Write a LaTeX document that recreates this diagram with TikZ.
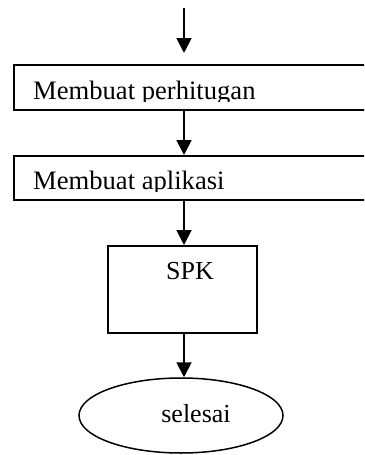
\documentclass[tikz,border=0pt]{standalone}
\usepackage{fontspec}
\setmainfont{Liberation Serif}
\usetikzlibrary{arrows.meta,shapes.geometric}
\tikzset{
  flow/.style={line width=1.9pt,-{Triangle[length=15pt,width=15pt]}},
  stepbox/.style={draw,line width=1.9pt,inner sep=0pt,anchor=north west},
  lbl/.style={inner sep=0pt,font=\fontsize{26}{30}\selectfont},
  boxlbl/.style={inner sep=0pt,anchor=base west,font=\fontsize{26.6}{30}\selectfont}
}
\begin{document}
\begin{tikzpicture}[x=1pt,y=-1pt]
\useasboundingbox (0,0) rectangle (364,455);
\clip (0,0) rectangle (364,455);

% process boxes
\node[stepbox,minimum width=380pt,minimum height=45pt] (b1) at (13,64) {};
\node[stepbox,minimum width=380pt,minimum height=44pt] (b2) at (13,155) {};
\node[stepbox,minimum width=149pt,minimum height=87pt] (b3) at (107,245) {};
\node[draw,ellipse,line width=1.5pt,minimum width=204pt,minimum height=75pt,inner sep=0pt] (e) at (181,415.5) {};

% labels (the first two are cut off just below the baseline)
\begin{scope}
  \clip (b1.north west) rectangle (364,101);
  \node[boxlbl] (t1) at (33,99) {Membuat perhitugan};
\end{scope}
\begin{scope}
  \clip (b2.north west) rectangle (364,191);
  \node[boxlbl] (t2) at (33,189) {Membuat aplikasi};
\end{scope}
\node[lbl,anchor=base] (t3) at (190,279) {SPK};
\node[lbl,anchor=base] (t4) at (196,422) {selesai};

% connectors
\coordinate (a0) at (184,8);
\coordinate (a1) at (184,53);
\draw[flow] (a0) -- (a1);
\draw[flow] (b1.south -| a0) -- (b2.north -| a0);
\draw[flow] (b2.south -| a0) -- (b3.north -| a0);
\draw[flow] (b3.south -| a0) -- (e.north -| a0);
\end{tikzpicture}
\end{document}
